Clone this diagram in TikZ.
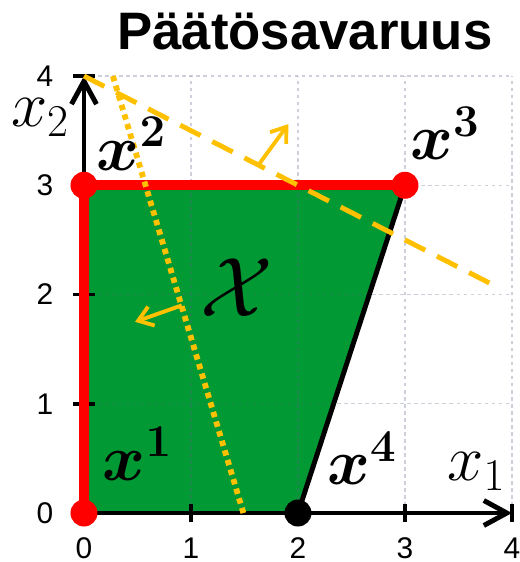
\RequirePackage{fix-cm}
\documentclass[tikz,border=0pt]{standalone}
\usepackage{bm}
\usepackage{fontspec}
\newfontfamily\arialfont{Liberation Sans}
\usetikzlibrary{arrows.meta}
\definecolor{myred}{HTML}{FF0000}
\definecolor{mygreen}{HTML}{009933}
\definecolor{myyellow}{HTML}{FFC000}
\definecolor{mygrid}{HTML}{5A6488}

\begin{document}
\begin{tikzpicture}[x=2.14cm,y=2.185cm]
	\tikzset{% styles for the nodes and lines
		reddot/.style={circle,inner sep=0pt,minimum size=0.54cm,fill=myred},
		blackdot/.style={circle,inner sep=0pt,minimum size=0.54cm,fill=black},
		ticklabel/.style={inner sep=0pt,font=\arialfont\fontsize{17}{17}\selectfont},
		pointlabel/.style={inner sep=0pt,font=\fontsize{37}{40}\selectfont},
		gridline/.style={mygrid,opacity=0.3,line width=0.6pt,dash pattern=on 2pt off 2pt},
		axisline/.style={line width=2.8pt,-{Straight Barb[length=0.46cm,width=0.5cm]}},
		normalarrow/.style={myyellow,line width=2.2pt,-{Straight Barb[length=0.28cm,width=0.4cm]}}}
	\useasboundingbox (-0.785,-0.4485) rectangle (4.075,4.696);

	\coordinate (p1) at (0,0);
	\coordinate (p2) at (0,3);
	\coordinate (p3) at (3,3);
	\coordinate (p4) at (2,0);
	\coordinate (o) at (0,0);
	\coordinate (xend) at (4,0);
	\coordinate (yend) at (0,4);

	% feasible set
	\fill[mygreen] (p1) -- (p2) -- (p3) -- (p4) -- cycle;
	\foreach \k in {1,...,4} {
		\draw[gridline] (\k,0) -- (\k,4);
		\draw[gridline] (0,\k) -- (4,\k);
	}

	% axes
	\draw[axisline] (o) -- (xend);
	\draw[axisline] (o) -- (yend);
	\foreach \k in {1,...,4} {
		\draw[line width=2.2pt] (\k,-0.08) -- (\k,0.08);
		\draw[line width=2.2pt] (-0.1,\k) -- (0.1,\k);
	}
	\foreach \k in {0,...,4} {
		\node[ticklabel] (xt\k) at (\k,-0.32) {\k};
		\node[ticklabel] (yt\k) at (-0.365,\k) {\k};
	}
	\node[pointlabel] (x1lab) at (3.668,0.38) {$x_1$};
	\node[pointlabel] (x2lab) at (-0.411,3.62) {$x_2$};

	% edges
	\draw[line width=2.8pt] (p3) -- (p4);
	\draw[myred,line width=5.7pt] (p1) -- (p2) -- (p3);

	% constraints and their normals
	\coordinate (da) at (0,4);
	\coordinate (db) at (3.85,2.075);
	\coordinate (dn) at (1.63,3.185);
	\coordinate (dm) at (1.91,3.56);
	\draw[myyellow,line width=2.8pt,dash pattern=on 13pt off 7.5pt] (da) -- (db);
	\draw[normalarrow] (dn) -- (dm);
	\coordinate (ta) at (0.27,4);
	\coordinate (tb) at (1.49,0);
	\coordinate (tn) at (0.913,1.9);
	\coordinate (tm) at (0.477,1.75);
	\draw[myyellow,line width=3.3pt,dash pattern=on 3.1pt off 2.6pt] (ta) -- (tb);
	\draw[normalarrow] (tn) -- (tm);

	% vertices
	\node[reddot] (v1) at (p1) {};
	\node[reddot] (v2) at (p2) {};
	\node[reddot] (v3) at (p3) {};
	\node[blackdot] (v4) at (p4) {};
	\node[pointlabel] (l1) at (0.5,0.54) {$\bm{x}^{\bm{1}}$};
	\node[pointlabel] (l2) at (0.444,3.378) {$\bm{x}^{\bm{2}}$};
	\node[pointlabel] (l3) at (3.374,3.474) {$\bm{x}^{\bm{3}}$};
	\node[pointlabel] (l4) at (2.598,0.499) {$\bm{x}^{\bm{4}}$};
	\node[inner sep=0pt,font=\fontsize{48}{50}\selectfont] (setlab) at (1.43,2.06) {$\mathcal{X}$};

	\node[inner sep=0pt,anchor=base,font=\arialfont\bfseries\fontsize{30}{30}\selectfont] (title) at (2.065,4.24) {Päätösavaruus};
\end{tikzpicture}
\end{document}
